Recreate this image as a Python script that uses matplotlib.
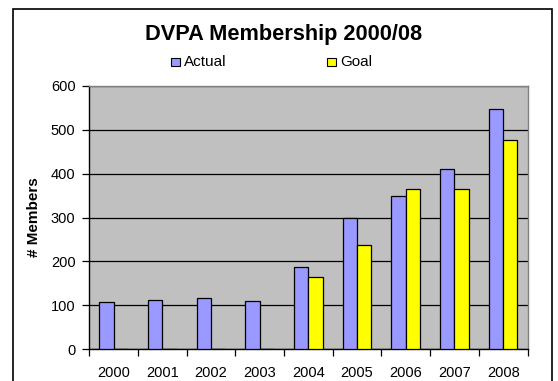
import matplotlib
matplotlib.use("Agg")
import matplotlib.pyplot as plt
from matplotlib.patches import Rectangle
import numpy as np

plt.rcParams['font.family'] = ['Liberation Sans', 'DejaVu Sans']

years = ["2000", "2001", "2002", "2003", "2004", "2005", "2006", "2007", "2008"]
actual = [107, 112, 117, 110, 187, 300, 350, 411, 546]
goal = [0, 0, 0, 0, 164, 237, 365, 365, 476]

W, H = 558, 381
fig = plt.figure(figsize=(W / 100, H / 100), dpi=100)
fig.patch.set_facecolor("white")

# outer chart frame
fig.patches.append(Rectangle((13.3 / W, -0.05), (552 - 13.3) / W, 1 - 8.5 / H + 0.05,
                             transform=fig.transFigure, fill=False,
                             edgecolor="black", linewidth=1.2))

ax = fig.add_axes([89.3 / W, 31.7 / H, 438.2 / W, 263.6 / H])
ax.set_facecolor("#C0C0C0")

x = np.arange(len(years))
w = 0.294
ax.bar(x - w / 2, actual, width=w, color="#9999FF", edgecolor="black",
       linewidth=0.9, zorder=3, label="Actual")
ax.bar(x + w / 2, goal, width=w, color="#FFFF00", edgecolor="black",
       linewidth=0.9, zorder=3, label="Goal")

ax.set_xlim(-0.5, len(years) - 0.5)
ax.set_ylim(0, 600)
ax.set_yticks(np.arange(0, 601, 100))
ax.yaxis.grid(True, color="black", linewidth=0.9, zorder=1)
ax.set_axisbelow(True)

ax.set_xticks(x)
ax.set_xticklabels(years, fontsize=10.5)
ax.set_xticks(np.arange(-0.5, len(years)), minor=True)
ax.tick_params(axis="x", which="major", length=0, pad=12)
ax.tick_params(axis="x", which="minor", length=5, width=0.9, color="black")
ax.tick_params(axis="y", length=5, width=0.9, labelsize=10.5, pad=5)

for side in ("top", "right"):
    ax.spines[side].set_color("#808080")
    ax.spines[side].set_linewidth(1.0)
for side in ("left", "bottom"):
    ax.spines[side].set_color("black")
    ax.spines[side].set_linewidth(1.0)

ax.set_ylabel("# Members", fontsize=11, fontweight="bold", labelpad=7)

fig.text(283.7 / W, 1 - 34.5 / H, "DVPA Membership 2000/08", ha="center",
         va="center", fontsize=15.7, fontweight="bold")

# legend row under the title
leg_y = 1 - 62 / H
for px, label, col in [(170.7, "Actual", "#9999FF"), (326.7, "Goal", "#FFFF00")]:
    fig.patches.append(Rectangle((px / W, leg_y - 4 / H), 9 / W, 8 / H,
                                 transform=fig.transFigure, facecolor=col,
                                 edgecolor="black", linewidth=0.8))
    fig.text((px + 13.3) / W, leg_y, label, ha="left", va="center", fontsize=11)

fig.savefig("out.png", dpi=100)
